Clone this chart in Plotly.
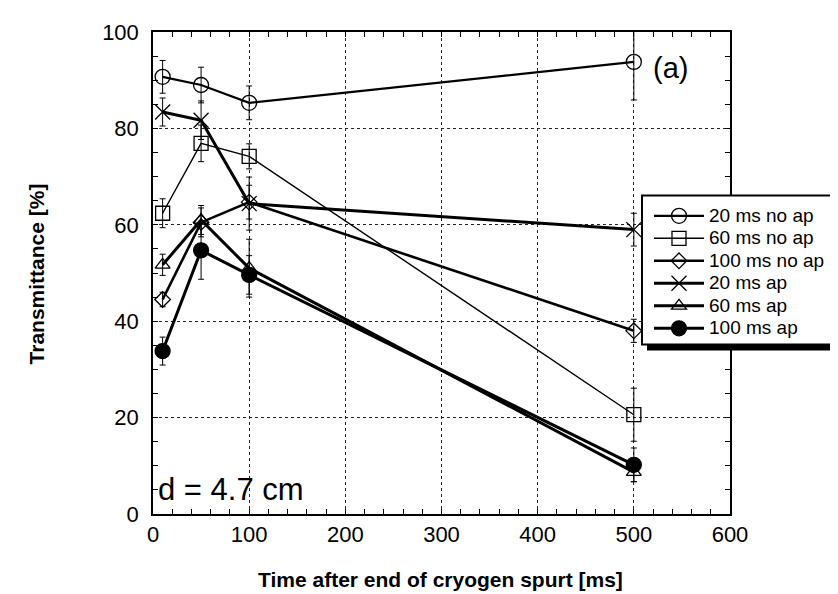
import plotly.graph_objects as go

time_ms = [10, 50, 100, 500]

t20_noap = [90.7, 89.0, 85.3, 93.8]
e20_noap = [3.4, 3.7, 3.5, 7.9]
t60_noap = [62.4, 76.9, 74.2, 20.6]
e60_noap = [3.0, 3.8, 2.6, 5.5]
t100_noap = [44.5, 60.5, 64.7, 38.0]
e100_noap = [1.5, 3.0, 3.5, 2.4]
t20_ap = [83.4, 81.7, 64.4, 59.0]
e20_ap = [2.9, 4.0, 5.5, 3.4]
t60_ap = [51.7, 61.0, 51.0, 8.7]
e60_ap = [2.2, 3.0, 6.0, 2.0]
t100_ap = [33.8, 54.7, 49.6, 10.2]
e100_ap = [2.9, 6.0, 4.0, 3.5]

series = [
    ("20 ms no ap", t20_noap, e20_noap, "circle-open", 15, 2.2),
    ("60 ms no ap", t60_noap, e60_noap, "square-open", 14, 1.4),
    ("100 ms no ap", t100_noap, e100_noap, "diamond-open", 12, 2.6),
    ("20 ms ap", t20_ap, e20_ap, "x-thin-open", 15, 3.0),
    ("60 ms ap", t60_ap, e60_ap, "triangle-up-open", 13, 3.0),
    ("100 ms ap", t100_ap, e100_ap, "circle", 15, 3.0),
]

FONT = "Liberation Sans, Arial, sans-serif"

# plot-area geometry in pixels (used only for paper-coordinate placement)
L, R, T, B = 145, 722, 17, 506
def px(xp):
    return (xp - L) / (R - L)
def py(yp):
    return (B - yp) / (B - T)

fig = go.Figure()
for name, ys, es, sym, size, lw in series:
    fig.add_trace(go.Scatter(
        x=time_ms, y=ys, name=f'<span style="font-size:19px">{name}</span>',
        mode="lines+markers",
        line=dict(color="black", width=lw),
        marker=dict(symbol=sym, size=size, color="black",
                    line=dict(color="black", width=1.3)),
        error_y=dict(type="data", array=es, visible=True,
                     color="black", thickness=1, width=3),
    ))

# legend box (shadow + white frame) drawn as shapes, legend itself transparent
box_x0, box_x1, box_y0, box_y1 = 634, 831, 183, 334
fig.add_shape(type="rect", xref="paper", yref="paper",
              x0=px(box_x0 + 5), x1=px(box_x1 + 5), y0=py(box_y1 + 6), y1=py(box_y0 + 6),
              fillcolor="black", line=dict(width=0), layer="above")
fig.add_shape(type="rect", xref="paper", yref="paper",
              x0=px(box_x0), x1=px(box_x1), y0=py(box_y1), y1=py(box_y0),
              fillcolor="white", line=dict(color="black", width=2), layer="above")

fig.update_layout(
    width=838, height=594,
    margin=dict(l=L, r=838 - R, t=T, b=594 - B),
    paper_bgcolor="white", plot_bgcolor="white",
    font=dict(family=FONT, color="black"),
    showlegend=True,
    legend=dict(x=px(box_x0 + 7), y=py(box_y0 + 4), xanchor="left", yanchor="top",
                bgcolor="rgba(0,0,0,0)", borderwidth=0,
                font=dict(size=15, family=FONT), tracegroupgap=0,
                itemwidth=50),
    xaxis=dict(range=[0, 600], dtick=100, tick0=0,
               showline=True, linecolor="black", linewidth=1.5, mirror="ticks",
               ticks="inside", ticklen=5, tickcolor="black",
               showgrid=True, gridcolor="#222", griddash="dot", gridwidth=1,
               zeroline=False, tickfont=dict(size=22),
               ticklabelstandoff=0,
               minor=dict(dtick=20, ticks="inside", ticklen=5, tickcolor="black",
                          showgrid=False)),
    yaxis=dict(range=[0, 100], dtick=20, tick0=0,
               showline=True, linecolor="black", linewidth=1.5, mirror="ticks",
               ticks="inside", ticklen=5, tickcolor="black",
               showgrid=True, gridcolor="#222", griddash="dot", gridwidth=1,
               zeroline=False, tickfont=dict(size=22),
               ticklabelstandoff=8,
               minor=dict(dtick=5, ticks="inside", ticklen=5, tickcolor="black",
                          showgrid=False)),
    annotations=[
        dict(text="<b>Time after end of cryogen spurt [ms]</b>", xref="paper", yref="paper",
             x=0.499, y=py(572), showarrow=False, font=dict(size=21),
             xanchor="center", yanchor="middle"),
        dict(text="<b>Transmittance [%]</b>", xref="paper", yref="paper",
             x=px(28), y=0.497, showarrow=False, font=dict(size=21), textangle=-90,
             xanchor="center", yanchor="middle"),
        dict(text="(a)", xref="paper", yref="y", x=px(662), y=92.6,
             showarrow=False, font=dict(size=29), xanchor="center", yanchor="middle"),
        dict(text="d = 4.7 cm", xref="x", yref="y", x=3, y=5,
             showarrow=False, font=dict(size=31), xanchor="left", yanchor="middle"),
    ],
)

fig.write_html("out.html")
